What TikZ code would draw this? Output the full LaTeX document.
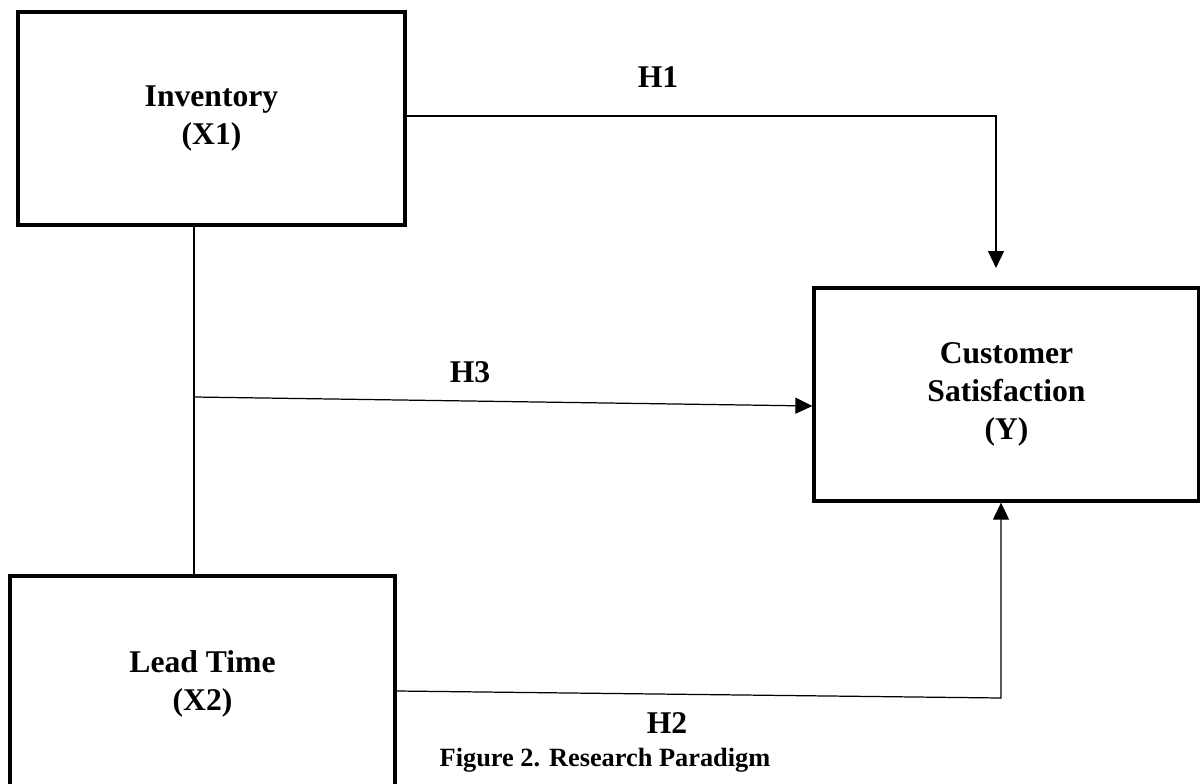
\documentclass[tikz,border=0pt]{standalone}
\usepackage{fontspec}
\setmainfont{Liberation Serif}
\usetikzlibrary{arrows.meta, calc}

\tikzset{
  varbox/.style={draw, line width=1.9pt, inner sep=0pt, align=center, font=\fontsize{18}{21.5}\selectfont\bfseries},
  conn/.style={line width=0.7pt},
  tip/.style={-{Triangle[length=0.34cm,width=0.32cm]}},
  hlabel/.style={font=\fontsize{18}{21.5}\selectfont\bfseries}
}

\begin{document}
\begin{tikzpicture}[x=0.02cm, y=-0.02cm]
        \clip (0,0) rectangle (1200,784);
        \fill[white] (0,0) rectangle (1200,784);

        \node[varbox, minimum width=7.74cm, minimum height=4.26cm] (inv) at (211.5,118.5) {Inventory\\(X1)};
        \node[varbox, minimum width=7.7cm, minimum height=4.26cm] (cs) at (1006.5,394.5) {Customer\\Satisfaction\\(Y)};
        \node[varbox, minimum width=7.7cm, minimum height=4.32cm] (lt) at (202.5,684) {Lead Time\\(X2)};

        \coordinate (h1c) at (996,116);
        \coordinate (h1e) at (996,268);
        \coordinate (jn) at (194,397);
        \coordinate (h2c) at (1001,698);

        \draw[conn, tip] (inv.east |- h1c) -- (h1c) -- (h1e);
        \draw[conn] (inv.south -| jn) -- (lt.north -| jn);
        \draw[conn, tip] (jn) -- ([yshift=-0.23cm]cs.west);
        \draw[conn, tip] ([yshift=-0.14cm]lt.east) -- (h2c) -- (h2c |- cs.south);

        \node[hlabel] (h1) at (658,77) {H1};
        \node[hlabel] (h3) at (470,372) {H3};
        \node[hlabel] (h2) at (667,723) {H2};
        \node[font=\fontsize{15}{18}\selectfont\bfseries] (cap) at (605,760) {Figure 2. Research Paradigm};
    \end{tikzpicture}
\end{document}
